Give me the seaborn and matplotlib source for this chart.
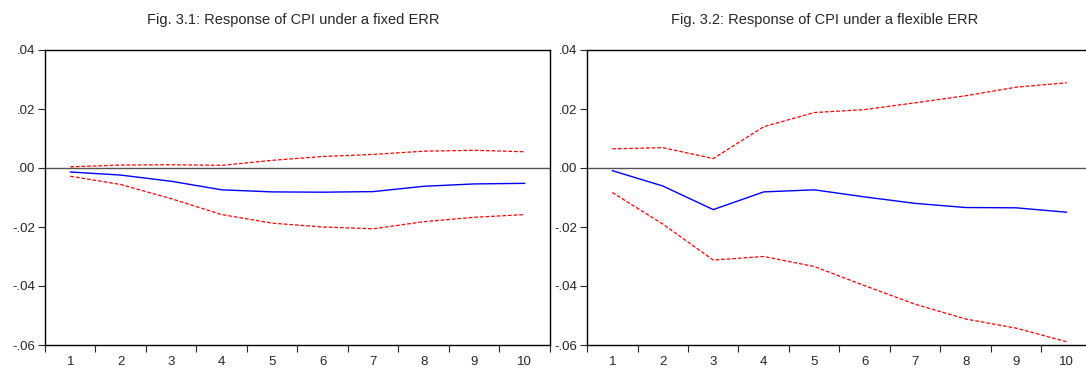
import pandas as pd
import numpy as np
import seaborn as sns
import matplotlib.pyplot as plt

# %%
periods = list(range(1, 11))

# Fig 3.1 - fixed ERR
fixed_resp = [-0.00135, -0.0024, -0.0045, -0.0074, -0.0081, -0.0082, -0.0080, -0.0062, -0.0054, -0.0052]
fixed_upper = [0.0004, 0.0010, 0.0011, 0.0009, 0.0026, 0.0039, 0.0046, 0.0057, 0.0060, 0.0055]
fixed_lower = [-0.0028, -0.0056, -0.0104, -0.0158, -0.0187, -0.0200, -0.0206, -0.0182, -0.0167, -0.0158]

# Fig 3.2 - flexible ERR
flex_resp = [-0.0009, -0.0061, -0.0141, -0.0081, -0.0074, -0.0098, -0.0120, -0.0134, -0.0135, -0.0150]
flex_upper = [0.0065, 0.0069, 0.0032, 0.0140, 0.0188, 0.0198, 0.0221, 0.0245, 0.0274, 0.0289]
flex_lower = [-0.0083, -0.0190, -0.0312, -0.0300, -0.0334, -0.0399, -0.0462, -0.0512, -0.0543, -0.0589]

titles = ['Fig. 3.1: Response of CPI under a fixed ERR',
          'Fig. 3.2: Response of CPI under a flexible ERR']
yticks = [0.04, 0.02, 0.0, -0.02, -0.04, -0.06]
ytick_labels = ['.04', '.02', '.00', '-.02', '-.04', '-.06']

# %%
sns.set_style('white')
plt.rcParams['font.family'] = ['Liberation Sans', 'DejaVu Sans']

W, H = 1086, 369
fig = plt.figure(figsize=(W / 100, H / 100), dpi=100)
ax1 = fig.add_axes([45 / W, (H - 345) / H, 505 / W, 295 / H])
ax2 = fig.add_axes([587 / W, (H - 345) / H, 505 / W, 295 / H])

panels = [(ax1, fixed_resp, fixed_upper, fixed_lower),
          (ax2, flex_resp, flex_upper, flex_lower)]

for ax, resp, up, lo in panels:
    df = pd.DataFrame({'period': periods, 'resp': resp, 'upper': up, 'lower': lo})
    ax.axhline(0, color='#555555', lw=1.0, zorder=1)
    sns.lineplot(data=df, x='period', y='upper', ax=ax, color='#ff0000', lw=0.9,
                 linestyle=(0, (3, 1.5)))
    sns.lineplot(data=df, x='period', y='lower', ax=ax, color='#ff0000', lw=0.9,
                 linestyle=(0, (3, 1.5)))
    sns.lineplot(data=df, x='period', y='resp', ax=ax, color='#0000ff', lw=1.0)

    ax.set_xlim(0.5, 10.5)
    ax.set_ylim(-0.06, 0.04)
    ax.set_yticks(yticks)
    ax.set_yticklabels(ytick_labels, fontsize=9.5)
    # ticks at the boundaries, labels centred
    ax.set_xticks(np.arange(0.5, 11, 1.0))
    ax.set_xticklabels([])
    ax.set_xticks(periods, minor=True)
    ax.set_xticklabels([str(p) for p in periods], minor=True, fontsize=9.5)
    ax.tick_params(axis='x', which='major', direction='out', length=5, width=0.8, bottom=True)
    ax.tick_params(axis='x', which='minor', length=0, pad=8)
    ax.tick_params(axis='y', direction='out', length=5, width=0.8, left=True, pad=2)
    ax.set_xlabel('')
    ax.set_ylabel('')
    for s in ax.spines.values():
        s.set_color('black')
        s.set_linewidth(1.0)

fig.text(293 / W, 1 - 20 / H, titles[0], ha='center', va='center', fontsize=10.5)
fig.text(825 / W, 1 - 20 / H, titles[1], ha='center', va='center', fontsize=10.5)

fig.savefig('out.png', dpi=100)
